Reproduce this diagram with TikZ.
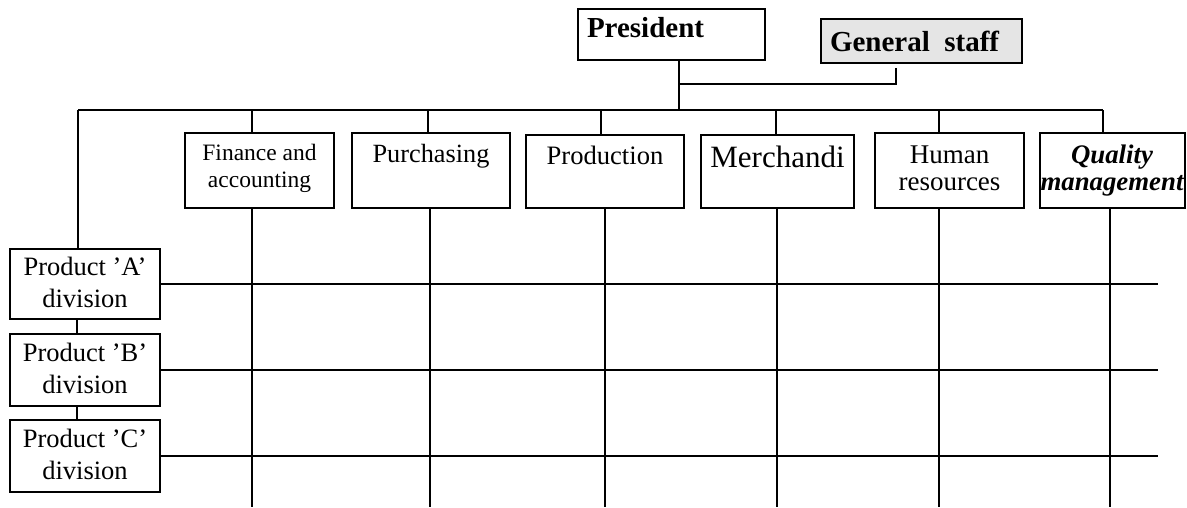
\documentclass[tikz,border=0pt]{standalone}
\usepackage{fontspec}
\setmainfont{Liberation Serif}
\begin{document}
\begin{tikzpicture}[x=1pt,y=-1pt,
  line width=1.4pt,
  box/.style={draw, rectangle, inner sep=0pt, outer sep=0pt},
  txt/.style={inner sep=0pt, outer sep=0pt, anchor=base, align=center}]
\useasboundingbox (0,0) rectangle (1187,508);

% top level
\node[box, minimum width=187pt, minimum height=51pt] (pres) at (671.5,34.5) {};
\node[box, fill=black!10, minimum width=201pt, minimum height=44pt] (gen) at (921.5,41) {};
\node[txt, anchor=base west, font=\fontsize{29}{29}\selectfont\bfseries] (prest) at (587,38) {President};
\node[txt, anchor=base west, font=\fontsize{29}{29}\selectfont\bfseries] (gent) at (830,52) {General\ \ staff};

% functional departments
\node[box, minimum width=149pt, minimum height=75pt] (fin) at (259.5,170.5) {};
\node[box, minimum width=158pt, minimum height=75pt] (pur) at (431,170.5) {};
\node[box, minimum width=158pt, minimum height=73pt] (prod) at (605,171.5) {};
\node[box, minimum width=153pt, minimum height=73pt] (mer) at (777.5,171.5) {};
\node[box, minimum width=149pt, minimum height=75pt] (hum) at (949.5,170.5) {};
\node[box, minimum width=145pt, minimum height=75pt] (qual) at (1112.5,170.5) {};

% two-line labels are placed by the baseline of their last line
\node[txt, font=\fontsize{23.5}{28}\selectfont] (fint) at (259.5,188) {Finance and\\accounting};
\node[txt, font=\fontsize{26.3}{28}\selectfont] (purt) at (431,163) {Purchasing};
\node[txt, font=\fontsize{26.6}{28}\selectfont] (prodt) at (605,165) {Production};
\node[txt, font=\fontsize{31}{31}\selectfont] (mert) at (777.5,168) {Merchandi};
\node[txt, font=\fontsize{27}{27}\selectfont] (humt) at (949.5,190) {Human\\resources};
\node[txt, font=\fontsize{26.8}{27}\selectfont\bfseries\itshape] (qualt) at (1112,190) {Quality\\management};

% product divisions
\node[box, minimum width=150pt, minimum height=70pt] (pa) at (85,284) {};
\node[box, minimum width=150pt, minimum height=72pt] (pb) at (85,370) {};
\node[box, minimum width=150pt, minimum height=72pt] (pc) at (85,456) {};
\node[txt, font=\fontsize{26.5}{32}\selectfont] (pat) at (85,307) {Product 'A'\\division};
\node[txt, font=\fontsize{26.5}{32}\selectfont] (pbt) at (85,393) {Product 'B'\\division};
\node[txt, font=\fontsize{26.5}{32}\selectfont] (pct) at (85,479) {Product 'C'\\division};

% junctions
\coordinate (j) at (679,110);
\coordinate (busL) at (78,110);
\coordinate (busR) at (1103,110);
\coordinate (gtop) at (896,68);
\coordinate (gj) at (896,84);
\coordinate (bottom) at (0,507);
\coordinate (right) at (1158,0);

% president and general staff links
\draw (pres.south -| j) -- (j);
\draw (gtop) -- (gj) -- (gj -| j);

% main bus
\draw (busL) -- (busR);
\draw (busL) -- (busL |- pa.north);
\draw (pa.south -| 77,0) -- (pb.north -| 77,0);
\draw (pb.south -| 77,0) -- (pc.north -| 77,0);

% drops to departments
\draw ([xshift=-7.5pt]fin.north) -- ([xshift=-7.5pt]fin.north |- j);
\draw ([xshift=-3pt]pur.north) -- ([xshift=-3pt]pur.north |- j);
\draw ([xshift=-4pt]prod.north) -- ([xshift=-4pt]prod.north |- j);
\draw ([xshift=-1.5pt]mer.north) -- ([xshift=-1.5pt]mer.north |- j);
\draw ([xshift=-10.5pt]hum.north) -- ([xshift=-10.5pt]hum.north |- j);
\draw ([xshift=-9.5pt]qual.north) -- ([xshift=-9.5pt]qual.north |- j);

% matrix columns
\draw ([xshift=-7.5pt]fin.south) -- ([xshift=-7.5pt]fin.south |- bottom);
\draw ([xshift=-1pt]pur.south) -- ([xshift=-1pt]pur.south |- bottom);
\draw (prod.south) -- (prod.south |- bottom);
\draw ([xshift=-0.5pt]mer.south) -- ([xshift=-0.5pt]mer.south |- bottom);
\draw ([xshift=-10.5pt]hum.south) -- ([xshift=-10.5pt]hum.south |- bottom);
\draw ([xshift=-2.5pt]qual.south) -- ([xshift=-2.5pt]qual.south |- bottom);

% matrix rows
\draw (pa.east) -- (pa.east -| right);
\draw (pb.east) -- (pb.east -| right);
\draw (pc.east) -- (pc.east -| right);
\end{tikzpicture}
\end{document}
